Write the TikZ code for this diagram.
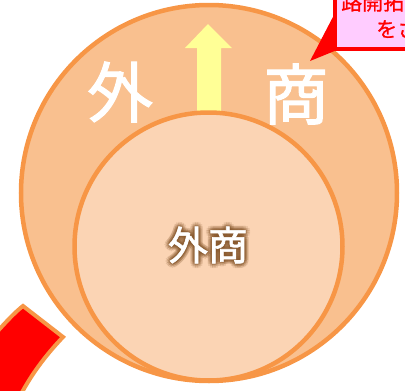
\documentclass[tikz,border=0pt]{standalone}
\usepackage{fontspec}
\usetikzlibrary{calc}
\newfontfamily\jp{Noto Sans CJK JP}
\newfontfamily\jpm[FakeBold=1.6]{Noto Sans CJK JP}
\newfontfamily\jps[FakeBold=0.8]{Noto Sans CJK JP}
\definecolor{ringorange}{HTML}{F79646}
\definecolor{outerfill}{HTML}{F9C08F}
\definecolor{innerfill}{HTML}{FBD4B4}
\definecolor{arrowyellow}{HTML}{FFFF96}
\definecolor{calloutpink}{HTML}{FFCCFF}
\definecolor{glowbrown}{HTML}{8A5A2E}
\tikzset{
  ring/.style={draw=ringorange, line width=4.5pt},
  bigchar/.style={inner sep=0pt, text=white, font=\jpm\fontsize{66}{66}\selectfont},
  labelfont/.style={inner sep=0pt, font=\jpm\fontsize{40}{40}\selectfont},
  callouttext/.style={inner sep=0pt, text=red, font=\jps\fontsize{21}{21}\selectfont},
}
\begin{document}
\begin{tikzpicture}[x=1pt,y=-1pt]
\useasboundingbox (0,0) rectangle (405,391);
\clip (0,0) rectangle (405,391);
% outer circle
\node[ring, fill=outerfill, circle, minimum size=376pt, inner sep=0pt] (outer) at (209,193) {};
% yellow arrow
\fill[arrowyellow] (197,130) -- (197,48) -- (185,48) -- (208,24) -- (232,48) -- (221,48) -- (221,130) -- cycle;
% inner circle
\node[ring, fill=innerfill, circle, minimum size=268pt, inner sep=0pt] (inner) at (208.5,246.5) {};
% big characters
\node[bigchar] (gai) at (120,92) {外};
\node[bigchar] (sho) at (296,94) {商};
% glowing inner label
\foreach \r in {1.5,3,4.5} {
  \foreach \a in {0,30,...,330} {
    \node[labelfont, text=glowbrown, opacity=0.10] at ($(208,245)+(\a:\r)$) {外商};
  }
}
\node[labelfont, text=white] (label) at (208,245) {外商};
% red curved arrow band
\draw[fill=red, draw=ringorange, line width=4pt, line join=miter]
  (23,306) -- (63,337) .. controls (45,356) and (30,376) .. (18,400)
  -- (-20,400) -- (-20,350) .. controls (-5,335) and (10,316) .. (23,306) -- cycle;
% callout
\fill[red] (335,13) -- (310,61) -- (337,50) -- cycle;
\draw[fill=calloutpink, draw=red, line width=4pt] (335,-20) rectangle (440,48.5);
\node[callouttext, anchor=base west] (line1) at (341,10) {路開拓};
\node[callouttext, anchor=base west] (line2) at (376,37) {をさ};
\end{tikzpicture}
\end{document}
